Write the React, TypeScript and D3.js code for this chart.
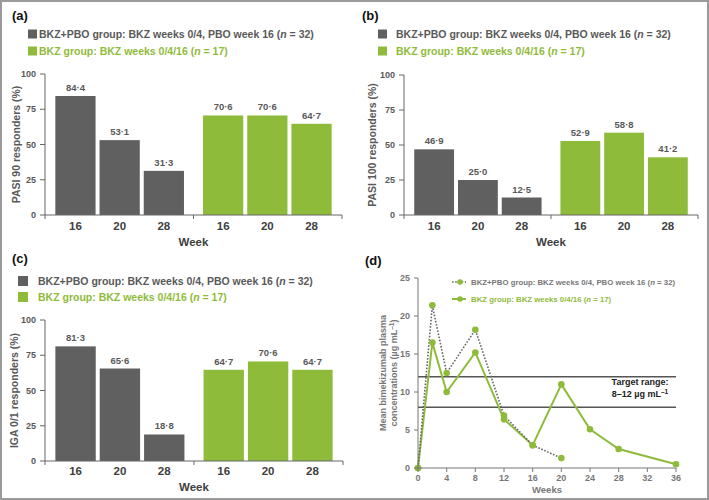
import React from "react";
import * as d3 from "d3";

const weeks = ["16", "20", "28"];
const groups = ["BKZ+PBO", "BKZ"];
const pasi90Pbo = [84.4, 53.1, 31.3];
const pasi90Bkz = [70.6, 70.6, 64.7];
const pasi100Pbo = [46.9, 25.0, 12.5];
const pasi100Bkz = [52.9, 58.8, 41.2];
const iga01Pbo = [81.3, 65.6, 18.8];
const iga01Bkz = [64.7, 70.6, 64.7];
const yTicksBar = [0, 25, 50, 75, 100];

const pkWeeksPbo = [0, 2, 4, 8, 12, 16, 20];
const pkValuesPbo = [0, 21.4, 12.5, 18.2, 6.9, 3.0, 1.3];
const pkWeeksBkz = [0, 2, 4, 8, 12, 16, 20, 24, 28, 36];
const pkValuesBkz = [0, 16.5, 10.0, 15.2, 6.4, 3.0, 11.0, 5.1, 2.5, 0.5];
const pkXTicks = [0, 4, 8, 12, 16, 20, 24, 28, 32, 36];
const pkYTicks = [0, 5, 10, 15, 20, 25];
const targetRange = [8, 12];

const legendPbo = "BKZ+PBO group: BKZ weeks 0/4, PBO week 16 (";
const legendBkz = "BKZ group: BKZ weeks 0/4/16 (";

const GRAY = "#606060";
const GREEN = "#8fbb3b";
const TEXT = "#595959";
const FONT = "'Liberation Sans', Arial, sans-serif";

function Legend({ x, y1, y2, sq, tx, fs }: any) {
  return (
    <g>
      <rect x={x} y={y1 - sq / 2} width={sq} height={sq} fill={GRAY} />
      <text x={tx} y={y1} dy="0.35em" fontSize={fs} fontWeight="bold" fill={TEXT}>
        {legendPbo}
        <tspan fontStyle="italic">n</tspan> = 32)
      </text>
      <rect x={x} y={y2 - sq / 2} width={sq} height={sq} fill={GREEN} />
      <text x={tx} y={y2} dy="0.35em" fontSize={fs} fontWeight="bold" fill={GREEN}>
        {legendBkz}
        <tspan fontStyle="italic">n</tspan> = 17)
      </text>
    </g>
  );
}

function BarPanel({ p, pbo, bkz, ylabel }: any) {
  const y = d3.scaleLinear().domain([0, 100]).range([p.yBottom, p.yTop]);
  const outer = d3
    .scaleBand()
    .domain(groups)
    .range([p.axisX, p.axisEnd])
    .paddingInner(0.129)
    .paddingOuter(0.07);
  const inner = d3.scaleBand().domain(weeks).range([0, outer.bandwidth()]).paddingInner(0.09).paddingOuter(0);
  const series = [
    { g: groups[0], vals: pbo, color: GRAY },
    { g: groups[1], vals: bkz, color: GREEN },
  ];
  const mid = (outer(groups[0])! + outer.bandwidth() + outer(groups[1])!) / 2;
  return (
    <g>
      <text x={p.titleX} y={p.titleY} fontSize={13} fontWeight="bold" fill="#111">
        {p.title}
      </text>
      <Legend x={p.legX} y1={p.legY1} y2={p.legY2} sq={p.sq} tx={p.legTx} fs={10.5} />
      {series.map((s) =>
        s.vals.map((v: number, i: number) => {
          const bx = outer(s.g)! + inner(weeks[i])!;
          return (
            <g key={s.g + i}>
              <rect x={bx} y={y(v)} width={inner.bandwidth()} height={y(0) - y(v)} fill={s.color} />
              <text
                x={bx + inner.bandwidth() / 2}
                y={y(v) - 5}
                textAnchor="middle"
                fontSize={9.5}
                fontWeight="bold"
                fill={TEXT}
              >
                {v.toFixed(1).replace(".", "·")}
              </text>
              <text
                x={bx + inner.bandwidth() / 2}
                y={p.tickLabelY}
                textAnchor="middle"
                fontSize={11.5}
                fontWeight="bold"
                fill="#404040"
              >
                {weeks[i]}
              </text>
            </g>
          );
        })
      )}
      <line x1={p.axisX} x2={p.axisX} y1={p.yTop} y2={p.yBottom} stroke="#666" strokeWidth={1} />
      <line x1={p.axisX} x2={p.axisEnd} y1={p.yBottom} y2={p.yBottom} stroke="#666" strokeWidth={1} />
      {[p.axisX, mid, p.axisEnd].map((t, i) => (
        <line key={i} x1={t} x2={t} y1={p.yBottom} y2={p.yBottom + 4} stroke="#666" />
      ))}
      {yTicksBar.map((t) => (
        <g key={t}>
          <line x1={p.axisX - 5} x2={p.axisX} y1={y(t)} y2={y(t)} stroke="#666" />
          <text x={p.axisX - 9} y={y(t)} dy="0.35em" textAnchor="end" fontSize={9} fontWeight="bold" fill={TEXT}>
            {t}
          </text>
        </g>
      ))}
      <text
        transform={`translate(${p.ylabX},${(p.yTop + p.yBottom) / 2}) rotate(-90)`}
        textAnchor="middle"
        dy="0.35em"
        fontSize={10.5}
        fontWeight="bold"
        fill={TEXT}
      >
        {ylabel}
      </text>
      <text x={(p.axisX + p.axisEnd) / 2} y={p.weekY} textAnchor="middle" fontSize={11.5} fontWeight="bold" fill="#404040">
        Week
      </text>
    </g>
  );
}

function PkPanel() {
  const x = d3.scaleLinear().domain([0, 36]).range([418, 676]);
  const y = d3.scaleLinear().domain([0, 25]).range([468, 278]);
  const line = d3
    .line<number>()
    .x((d) => d)
    .y((d) => d);
  const pboPts = pkWeeksPbo.map((w, i) => [x(w), y(pkValuesPbo[i])] as [number, number]);
  const bkzPts = pkWeeksBkz.map((w, i) => [x(w), y(pkValuesBkz[i])] as [number, number]);
  const path = d3.line();
  void line;
  return (
    <g>
      <text x={365} y={265} fontSize={13} fontWeight="bold" fill="#111">
        (d)
      </text>
      {targetRange.map((t) => (
        <line key={t} x1={x(0)} x2={x(36)} y1={y(t)} y2={y(t)} stroke="#555" strokeWidth={1.5} />
      ))}
      <text x={640} y={y(10.9)} textAnchor="middle" fontSize={9} fontWeight="bold" fill="#222">
        Target range:
      </text>
      <text x={640} y={y(9.4)} textAnchor="middle" fontSize={9} fontWeight="bold" fill="#222">
        8–12 µg mL
        <tspan dy="-3" fontSize={6.5}>
          –1
        </tspan>
      </text>
      <path d={path(bkzPts)!} fill="none" stroke={GREEN} strokeWidth={2} />
      <path d={path(pboPts)!} fill="none" stroke="#666" strokeWidth={1.6} strokeDasharray="1.6,1.6" />
      {bkzPts.map((pt, i) => (
        <circle key={"b" + i} cx={pt[0]} cy={pt[1]} r={3.3} fill={GREEN} />
      ))}
      {pboPts.map((pt, i) => (
        <circle key={"p" + i} cx={pt[0]} cy={pt[1]} r={3.3} fill={GREEN} />
      ))}
      <line x1={x(0)} x2={x(0)} y1={y(0)} y2={y(25)} stroke="#777" />
      <line x1={x(0)} x2={x(36)} y1={y(0)} y2={y(0)} stroke="#777" />
      {pkYTicks.map((t) => (
        <g key={t}>
          <line x1={x(0) - 4} x2={x(0)} y1={y(t)} y2={y(t)} stroke="#777" />
          <text x={x(0) - 8} y={y(t)} dy="0.35em" textAnchor="end" fontSize={9} fontWeight="bold" fill="#777">
            {t}
          </text>
        </g>
      ))}
      {pkXTicks.map((t) => (
        <g key={t}>
          <line x1={x(t)} x2={x(t)} y1={y(0)} y2={y(0) + 4} stroke="#777" />
          <text x={x(t)} y={481} textAnchor="middle" fontSize={9} fontWeight="bold" fill="#777">
            {t}
          </text>
        </g>
      ))}
      <text x={x(18)} y={493} textAnchor="middle" fontSize={9.5} fontWeight="bold" fill="#777">
        Weeks
      </text>
      <text transform={`translate(383,373) rotate(-90)`} textAnchor="middle" dy="0.35em" fontSize={9} fontWeight="bold" fill="#777">
        Mean bimekizumab plasma
      </text>
      <text transform={`translate(394,373) rotate(-90)`} textAnchor="middle" dy="0.35em" fontSize={9} fontWeight="bold" fill="#777">
        concentrations (µg mL
        <tspan dy="-3" fontSize={6.5}>
          –1
        </tspan>
        <tspan dy="3">)</tspan>
      </text>
      {/* legend */}
      <line x1={452} x2={466} y1={282} y2={282} stroke="#666" strokeWidth={1.6} strokeDasharray="1.6,1.6" />
      <circle cx={460} cy={282} r={2.8} fill={GREEN} />
      <text x={471} y={282} dy="0.35em" fontSize={7.8} fontWeight="bold" fill="#777">
        {legendPbo}
        <tspan fontStyle="italic">n</tspan> = 32)
      </text>
      <line x1={452} x2={466} y1={299} y2={299} stroke={GREEN} strokeWidth={2} />
      <circle cx={460} cy={299} r={2.8} fill={GREEN} />
      <text x={471} y={299} dy="0.35em" fontSize={7.8} fontWeight="bold" fill={GREEN}>
        {legendBkz}
        <tspan fontStyle="italic">n</tspan> = 17)
      </text>
    </g>
  );
}

export default function App() {
  const pa = {
    title: "(a)", titleX: 12, titleY: 20, legX: 28, legTx: 39, legY1: 34, legY2: 51, sq: 9,
    axisX: 45, axisEnd: 342, yTop: 74, yBottom: 215, ylabX: 16, tickLabelY: 230, weekY: 246,
  };
  const pb = {
    title: "(b)", titleX: 362, titleY: 20, legX: 378, legTx: 396, legY1: 34, legY2: 51, sq: 9,
    axisX: 404, axisEnd: 698, yTop: 75, yBottom: 215, ylabX: 372, tickLabelY: 230, weekY: 246,
  };
  const pc = {
    title: "(c)", titleX: 12, titleY: 263, legX: 18, legTx: 38, legY1: 281, legY2: 297, sq: 10,
    axisX: 45, axisEnd: 343, yTop: 320, yBottom: 461, ylabX: 14, tickLabelY: 475, weekY: 491,
  };
  return (
    <div style={{ position: "absolute", left: 0, top: 0 }}>
      <svg width={709} height={500} style={{ display: "block", fontFamily: FONT, background: "#fff" }}>
        <rect x={1} y={1} width={707} height={498} fill="#fff" stroke="#9a9a9a" strokeWidth={2} />
        <BarPanel p={pa} pbo={pasi90Pbo} bkz={pasi90Bkz} ylabel="PASI 90 responders (%)" />
        <BarPanel p={pb} pbo={pasi100Pbo} bkz={pasi100Bkz} ylabel="PASI 100 responders (%)" />
        <BarPanel p={pc} pbo={iga01Pbo} bkz={iga01Bkz} ylabel="IGA 0/1 responders (%)" />
        <PkPanel />
      </svg>
    </div>
  );
}
